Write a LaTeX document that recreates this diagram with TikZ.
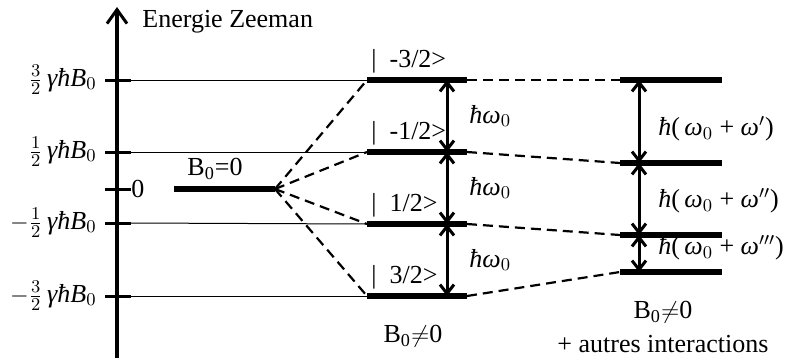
\documentclass[tikz,border=0pt]{standalone}
\usepackage{fontspec}
\setmainfont{Liberation Serif}
\usetikzlibrary{arrows.meta, calc}

\newcommand{\gh}{\textit{γħB}$_0$}
\newcommand{\hw}{\textit{ħω}$_0$}

\begin{document}
\begin{tikzpicture}[
      x=0.5pt, y=-0.5pt,
      every node/.style={font=\fontsize{13pt}{15pt}\selectfont, inner sep=1pt},
      axis/.style={line width=1.7pt, -{Straight Barb[length=7pt, width=10pt, line width=1.5pt]}},
      tick/.style={line width=1.5pt},
      guide/.style={line width=0.5pt},
      level/.style={line width=3pt},
      link/.style={line width=1.1pt, dash pattern=on 5pt off 3pt},
      gap/.style={line width=1.5pt, {Straight Barb[length=4.5pt, width=7pt]}-{Straight Barb[length=4.5pt, width=7pt]}},
    ]
    \useasboundingbox (0,0) rectangle (793,360);

    % axe des energies
    \coordinate (axbot) at (117,358);
    \coordinate (axtop) at (117,7);
    \draw[axis] (axbot) -- (axtop);
    \node[anchor=west] (title) at (140,22) {Energie Zeeman};

    \coordinate (t3) at (105,80);
    \coordinate (t1) at (105,152);
    \coordinate (t0) at (105,189);
    \coordinate (tm1) at (105,223);
    \coordinate (tm3) at (105,296);
    \draw[tick] (t3) -- ++(26,0);
    \draw[tick] (t1) -- ++(26,0);
    \draw[tick] (t0) -- ++(26,0);
    \draw[tick] (tm1) -- ++(26,0);
    \draw[tick] (tm3) -- ++(26,0);
    \node[anchor=east] (v3) at ($(t3)+(-6,0)$) {$\frac{3}{2}$\,\gh};
    \node[anchor=east] (v1) at ($(t1)+(-6,0)$) {$\frac{1}{2}$\,\gh};
    \node[anchor=west, inner sep=0pt] (v0) at ($(t0)+(26,0)$) {0};
    \node[anchor=east] (vm1) at ($(tm1)+(-6,0)$) {$-\frac{1}{2}$\,\gh};
    \node[anchor=east] (vm3) at ($(tm3)+(-6,0)$) {$-\frac{3}{2}$\,\gh};

    % champ nul
    \coordinate (z0w) at (174,189);
    \coordinate (z0e) at (275,189);
    \draw[level] (z0w) -- (z0e);
    \node (zlab) at (215,169) {B\textsubscript{0}=0};

    % effet Zeeman
    \coordinate (m3w) at (367,80);   \coordinate (m3e) at (467,80);
    \coordinate (m1w) at (367,152);  \coordinate (m1e) at (467,152);
    \coordinate (mm1w) at (367,224); \coordinate (mm1e) at (467,224);
    \coordinate (mm3w) at (367,296); \coordinate (mm3e) at (467,296);
    \draw[level] (m3w) -- (m3e);
    \draw[level] (m1w) -- (m1e);
    \draw[level] (mm1w) -- (mm1e);
    \draw[level] (mm3w) -- (mm3e);
    \draw[guide] ($(t3)+(26,0)$) -- (m3w);
    \draw[guide] ($(t1)+(26,0)$) -- (m1w);
    \draw[guide] ($(tm1)+(26,0)$) -- (mm1w);
    \draw[guide] ($(tm3)+(26,0)$) -- (mm3w);
    \draw[link] (z0e) -- (m3w);
    \draw[link] (z0e) -- (m1w);
    \draw[link] (z0e) -- (mm1w);
    \draw[link] (z0e) -- (mm3w);

    \node[anchor=west] (k3) at (369,61) {|\ \ -3/2>};
    \node[anchor=west] (k1) at (369,133) {|\ \ -1/2>};
    \node[anchor=west] (km1) at (369,205) {|\ \ 1/2>};
    \node[anchor=west] (km3) at (369,277) {|\ \ 3/2>};

    \coordinate (a3) at (447,80);
    \coordinate (a1) at (447,152);
    \coordinate (am1) at (447,224);
    \coordinate (am3) at (447,296);
    \draw[gap] (a3) -- (a1);
    \draw[gap] (a1) -- (am1);
    \draw[gap] (am1) -- (am3);
    \node[anchor=west] (w1) at (467,116) {\hw};
    \node[anchor=west] (w2) at (467,188) {\hw};
    \node[anchor=west] (w3) at (467,260) {\hw};
    \node (mlab) at (413,336) {B\textsubscript{0}$\neq$0};

    % autres interactions
    \coordinate (r3w) at (620,80);   \coordinate (r3e) at (722,80);
    \coordinate (r1w) at (620,163);  \coordinate (r1e) at (722,163);
    \coordinate (rm1w) at (620,235); \coordinate (rm1e) at (722,235);
    \coordinate (rm3w) at (620,272); \coordinate (rm3e) at (722,272);
    \draw[level] (r3w) -- (r3e);
    \draw[level] (r1w) -- (r1e);
    \draw[level] (rm1w) -- (rm1e);
    \draw[level] (rm3w) -- (rm3e);
    \draw[link] (m3e) -- (r3w);
    \draw[link] (m1e) -- (r1w);
    \draw[link] (mm1e) -- (rm1w);
    \draw[link] (mm3e) -- (rm3w);

    \coordinate (b3) at (639,80);
    \coordinate (b1) at (639,163);
    \coordinate (bm1) at (639,235);
    \coordinate (bm3) at (639,272);
    \draw[gap] (b3) -- (b1);
    \draw[gap] (b1) -- (bm1);
    \draw[gap] (bm1) -- (bm3);
    \node[anchor=west] (p1) at (656,129) {\textit{ħ}(\,\textit{ω}$_0$ + \textit{ω}$'$)};
    \node[anchor=west] (p2) at (656,201) {\textit{ħ}(\,\textit{ω}$_0$ + \textit{ω}$''$)};
    \node[anchor=west] (p3) at (656,248) {\textit{ħ}(\,\textit{ω}$_0$ + \textit{ω}$'''$)};
    \node (rlab) at (663,312) {B\textsubscript{0}$\neq$0};
    \node (rlab2) at (663,344) {+ autres interactions};
  \end{tikzpicture}
\end{document}
